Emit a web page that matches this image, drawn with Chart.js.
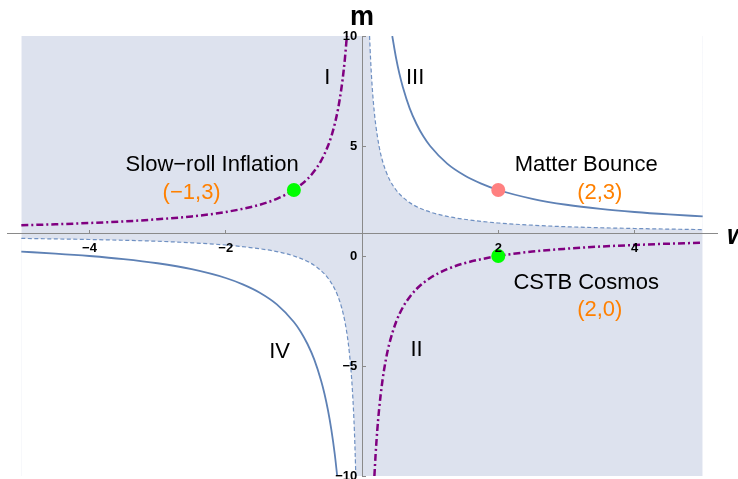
<!DOCTYPE html>
<html>
<head>
<meta charset="utf-8">
<script src="https://cdn.jsdelivr.net/npm/chart.js@4"></script>
<style>
    html, body { margin: 0; padding: 0; background: #ffffff; overflow: hidden; }
    #chart { display: block; }
</style>
</head>
<body>
<canvas id="chart" width="738" height="490"></canvas>
<script>
// solid boundary
const solidUpW = [0.444, 0.5, 0.55, 0.6, 0.7, 0.8, 0.9, 1.0, 1.25, 1.5, 1.75, 2.0, 2.5, 3.0, 3.5, 4.0, 4.5, 5.0];
const solidUpM = [10, 9, 8.27, 7.67, 6.71, 6.0, 5.44, 5.0, 4.2, 3.67, 3.29, 3.0, 2.6, 2.33, 2.14, 2.0, 1.89, 1.8];
const solidLowW = [-5.0, -4.5, -4.0, -3.5, -3.0, -2.5, -2.0, -1.75, -1.5, -1.25, -1.0, -0.9, -0.8, -0.7, -0.6, -0.55, -0.5, -0.45, -0.4, -0.364];
const solidLowM = [0.2, 0.11, 0, -0.14, -0.33, -0.6, -1.0, -1.29, -1.67, -2.2, -3.0, -3.44, -4.0, -4.71, -5.67, -6.27, -7.0, -7.89, -9.0, -10];

// dashed boundary (edge of the shaded region)
const dashUpW = [0.111, 0.125, 0.14, 0.16, 0.18, 0.2, 0.25, 0.3, 0.35, 0.4, 0.5, 0.6, 0.75, 1.0, 1.25, 1.5, 2.0, 2.5, 3.0, 4.0, 5.0];
const dashUpM = [10, 9, 8.14, 7.25, 6.56, 6.0, 5.0, 4.33, 3.86, 3.5, 3.0, 2.67, 2.33, 2.0, 1.8, 1.67, 1.5, 1.4, 1.33, 1.25, 1.2];
const dashLowW = [-5.0, -4.0, -3.0, -2.5, -2.0, -1.5, -1.25, -1.0, -0.75, -0.6, -0.5, -0.4, -0.35, -0.3, -0.25, -0.2, -0.16, -0.14, -0.125, -0.111, -0.1, -0.0909];
const dashLowM = [0.8, 0.75, 0.67, 0.6, 0.5, 0.33, 0.2, 0.0, -0.33, -0.67, -1.0, -1.5, -1.86, -2.33, -3.0, -4.0, -5.25, -6.14, -7.0, -8.0, -9.0, -10];

// purple dot-dashed curve
const purpLeftW = [-5.0, -4.5, -4.0, -3.5, -3.0, -2.5, -2.0, -1.5, -1.25, -1.0, -0.8, -0.7, -0.6, -0.5, -0.45, -0.4, -0.35, -0.3, -0.27, -0.25, -0.222];
const purpLeftM = [1.4, 1.44, 1.5, 1.57, 1.67, 1.8, 2.0, 2.33, 2.6, 3.0, 3.5, 3.86, 4.33, 5.0, 5.44, 6.0, 6.71, 7.67, 8.41, 9.0, 10];
const purpRightW = [0.182, 0.2, 0.225, 0.25, 0.3, 0.35, 0.4, 0.5, 0.6, 0.7, 0.8, 1.0, 1.25, 1.5, 2.0, 2.5, 3.0, 3.5, 4.0, 4.5, 5.0];
const purpRightM = [-10, -9, -7.89, -7.0, -5.67, -4.71, -4.0, -3.0, -2.33, -1.86, -1.5, -1.0, -0.6, -0.33, 0, 0.2, 0.33, 0.43, 0.5, 0.56, 0.6];

// plot range of the shaded map
const wRange = [-5, 5];
const mRange = [-10, 10];

// marked models
const pointW = [-1, 2, 2];
const pointM = [3, 3, 0];
const pointColors = ['#00ff00', '#ff8080', '#00ff00'];

// tick labels
const xTicks = [-4, -2, 2, 4];
const yTicks = [-10, -5, 0, 5, 10];

// text on the plot, in (w, m)
const noteText = ['Slow\u2212roll Inflation', '(\u22121,3)', 'Matter Bounce', '(2,3)', 'CSTB Cosmos', '(2,0)', 'I', 'III', 'IV', 'II'];
const noteW = [-2.2, -2.5, 3.29, 3.49, 3.29, 3.49, -0.51, 0.78, -1.21, 0.8];
const noteM = [4.14, 2.86, 4.14, 2.86, -1.23, -2.45, 8.1, 8.1, -4.36, -4.27];
const noteColor = ['#000', '#ff8000', '#000', '#ff8000', '#000', '#ff8000', '#000', '#000', '#000', '#000'];

const FONT = "'Liberation Sans', Arial, sans-serif";
const SHADE = 'rgb(221, 226, 238)';
const BLUE = '#5e81b5';
const DASHBLUE = '#6f90c2';
const PURPLE = '#800080';
const AXIS = '#8a8a8a';

const pts = (ws, ms) => ws.map((w, i) => ({ x: w, y: ms[i] }));
const minus = v => String(v).replace('-', '\u2212');

function fillSet(data, fill, color, order) {
    return {
        data: data,
        fill: fill,
        showLine: true,
        borderWidth: 0,
        pointRadius: 0,
        backgroundColor: color,
        cubicInterpolationMode: 'monotone',
        order: order
    };
}

function curveSet(data, color, width, dash) {
    return {
        data: data,
        showLine: true,
        fill: false,
        borderColor: color,
        borderWidth: width,
        borderDash: dash,
        pointRadius: 0,
        cubicInterpolationMode: 'monotone',
        order: 5
    };
}

const textPlugin = {
    id: 'texts',
    afterDraw(chart) {
        const ctx = chart.ctx;
        const xs = chart.scales.x;
        const ys = chart.scales.y;
        ctx.save();
        ctx.textAlign = 'center';
        ctx.textBaseline = 'middle';
        ctx.font = '22px ' + FONT;
        noteText.forEach((t, i) => {
            ctx.fillStyle = noteColor[i];
            ctx.fillText(t, xs.getPixelForValue(noteW[i]), ys.getPixelForValue(noteM[i]));
        });
        // axis names
        ctx.fillStyle = '#000';
        ctx.textBaseline = 'alphabetic';
        ctx.font = 'bold 27px ' + FONT;
        ctx.fillText('m', xs.getPixelForValue(0), chart.chartArea.top - 11);
        ctx.textAlign = 'left';
        ctx.font = 'italic bold 27px ' + FONT;
        ctx.fillText('w', chart.chartArea.right + 10, ys.getPixelForValue(1) + 10);
        ctx.restore();
    }
};

new Chart(document.getElementById('chart'), {
    type: 'scatter',
    data: {
        datasets: [
            {
                data: pts(pointW, pointM),
                pointRadius: 7,
                pointHoverRadius: 7,
                pointBorderWidth: 0,
                pointBackgroundColor: pointColors,
                showLine: false,
                order: 0
            },
            curveSet(pts(purpLeftW, purpLeftM), PURPLE, 2.5, [7, 3, 2, 3]),
            curveSet(pts(purpRightW, purpRightM), PURPLE, 2.5, [7, 3, 2, 3]),
            curveSet(pts(solidUpW, solidUpM), BLUE, 1.8, []),
            curveSet(pts(solidLowW, solidLowM), BLUE, 1.8, []),
            curveSet(pts(dashUpW, dashUpM), DASHBLUE, 1.2, [4, 2.5]),
            curveSet(pts(dashLowW, dashLowM), DASHBLUE, 1.2, [4, 2.5]),
            // white (unshaded) parts on top of the shaded box
            fillSet(pts(dashLowW, dashLowM), 'start', '#ffffff', 10),
            fillSet(pts(dashUpW, dashUpM), 'end', '#ffffff', 10),
            // shaded box over the whole plot range
            fillSet([{ x: wRange[0], y: mRange[1] }, { x: wRange[1], y: mRange[1] }], 'start', SHADE, 20)
        ]
    },
    options: {
        responsive: false,
        animation: false,
        events: [],
        layout: { padding: { left: 7, right: 21, top: 36, bottom: 14 } },
        plugins: {
            legend: { display: false },
            tooltip: { enabled: false }
        },
        scales: {
            x: {
                type: 'linear',
                position: { y: 1 },
                min: -5.21,
                max: 5.21,
                afterBuildTicks: (s) => { s.ticks = xTicks.map(v => ({ value: v })); },
                grid: { drawOnChartArea: false, tickLength: -4, color: AXIS, z: 1 },
                border: { color: AXIS, width: 1, z: 1 },
                ticks: {
                    z: 1,
                    autoSkip: false,
                    maxRotation: 0,
                    padding: 11,
                    color: '#000',
                    font: { family: FONT, size: 13, weight: 'bold' },
                    callback: (v) => minus(v)
                }
            },
            y: {
                type: 'linear',
                position: { x: 0 },
                min: mRange[0],
                max: mRange[1],
                afterBuildTicks: (s) => { s.ticks = yTicks.map(v => ({ value: v })); },
                grid: { drawOnChartArea: false, tickLength: -4, color: AXIS, z: 1 },
                border: { color: AXIS, width: 1, z: 1 },
                ticks: {
                    z: 1,
                    autoSkip: false,
                    color: '#000',
                    font: { family: FONT, size: 13, weight: 'bold' },
                    // keep the labels a few pixels clear of the axis line
                    callback: (v) => minus(v) + ' \u200A'
                }
            }
        }
    },
    plugins: [textPlugin]
});
</script>
</body>
</html>
